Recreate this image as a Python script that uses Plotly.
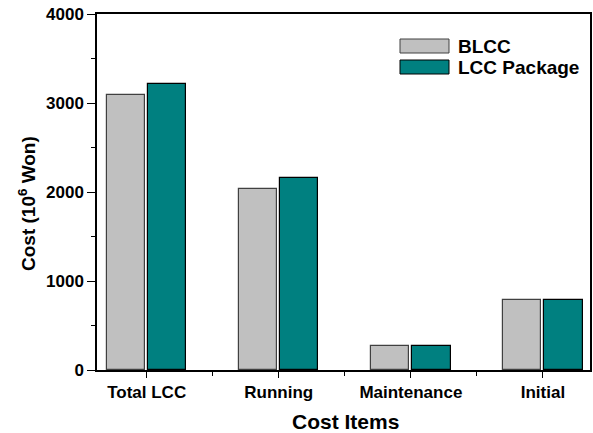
import plotly.graph_objects as go

categories = ["Total LCC", "Running", "Maintenance", "Initial"]
blcc = [3090, 2030, 273, 787]
lcc_package = [3210, 2154, 273, 787]
series_names = ["BLCC", "LCC Package"]
y_ticks = [0, 1000, 2000, 3000, 4000]

FONT = "Liberation Sans"
GRAY = "#C0C0C0"
TEAL = "#008080"

# plot-area geometry in pixels (for placing the hand-made legend/titles)
L, R, T, B = 97, 590, 14, 370
W, H = R - L, B - T

def px(x):
    return (x - L) / W

def py(y):
    return (B - y) / H

x_pos = list(range(len(categories)))

fig = go.Figure()
fig.add_trace(go.Bar(
    x=x_pos, y=blcc, name=series_names[0], width=0.29, offset=-0.303,
    marker=dict(color=GRAY, line=dict(color="#404040", width=1.2)),
    showlegend=False,
))
fig.add_trace(go.Bar(
    x=x_pos, y=lcc_package, name=series_names[1], width=0.29, offset=0.01,
    marker=dict(color=TEAL, line=dict(color="#000000", width=1.2)),
    showlegend=False,
))

# manual legend (large swatches as in the reference)
legend_items = [(series_names[0], GRAY, "#404040"), (series_names[1], TEAL, "#000000")]
for i, (name, fill, edge) in enumerate(legend_items):
    ytop = 39 + i * 21
    fig.add_shape(type="rect", xref="paper", yref="paper",
                  x0=px(400), x1=px(449), y0=py(ytop), y1=py(ytop + 14),
                  fillcolor=fill, line=dict(color=edge, width=1))
    fig.add_annotation(xref="paper", yref="paper", x=px(456), y=py(ytop + 7),
                       text="<b>%s</b>" % name, showarrow=False,
                       xanchor="left", yanchor="middle",
                       font=dict(family=FONT, size=19, color="black"))

# axis titles
fig.add_annotation(xref="paper", yref="paper", x=px(345), y=py(422),
                   text="<b>Cost Items</b>", showarrow=False,
                   xanchor="center", yanchor="middle",
                   font=dict(family=FONT, size=21, color="black"))
fig.add_annotation(xref="paper", yref="paper", x=px(27), y=py(204),
                   text="<b>Cost (10<sup>6</sup> Won)</b>", showarrow=False,
                   textangle=-90, xanchor="center", yanchor="middle",
                   font=dict(family=FONT, size=19, color="black"))

fig.update_layout(
    width=593, height=433,
    margin=dict(l=L, r=593 - R, t=T, b=433 - B, autoexpand=False),
    paper_bgcolor="white", plot_bgcolor="white",
    font=dict(family=FONT, color="black"),
    bargap=0,
)
fig.update_xaxes(
    range=[-0.376, 3.356], tickvals=x_pos,
    ticktext=["<b>%s</b>" % c for c in categories],
    tickfont=dict(size=17, family=FONT), ticks="outside", ticklen=6, tickwidth=1.2,
    tickcolor="black",
    minor=dict(tickvals=[0.5, 1.5, 2.5], ticks="outside", ticklen=4, tickwidth=1.2, tickcolor="black"),
    showline=True, linecolor="black", linewidth=1.5, mirror=True, showgrid=False,
    zeroline=False, automargin=False,
)
fig.update_yaxes(
    range=[0, 4000], tickvals=y_ticks,
    ticktext=["<b>%d</b>" % v for v in y_ticks],
    tickfont=dict(size=17, family=FONT), ticks="outside", ticklen=8, tickwidth=1.2,
    tickcolor="black",
    minor=dict(tickvals=[500, 1500, 2500, 3500], ticks="outside", ticklen=4, tickwidth=1.2, tickcolor="black"),
    showline=True, linecolor="black", linewidth=1.5, mirror=True, showgrid=False,
    zeroline=False, automargin=False,
)

fig.write_html(
    "out.html",
    config={"displayModeBar": False},
    post_script="document.body.style.margin='0';document.body.style.overflow='hidden';",
)
